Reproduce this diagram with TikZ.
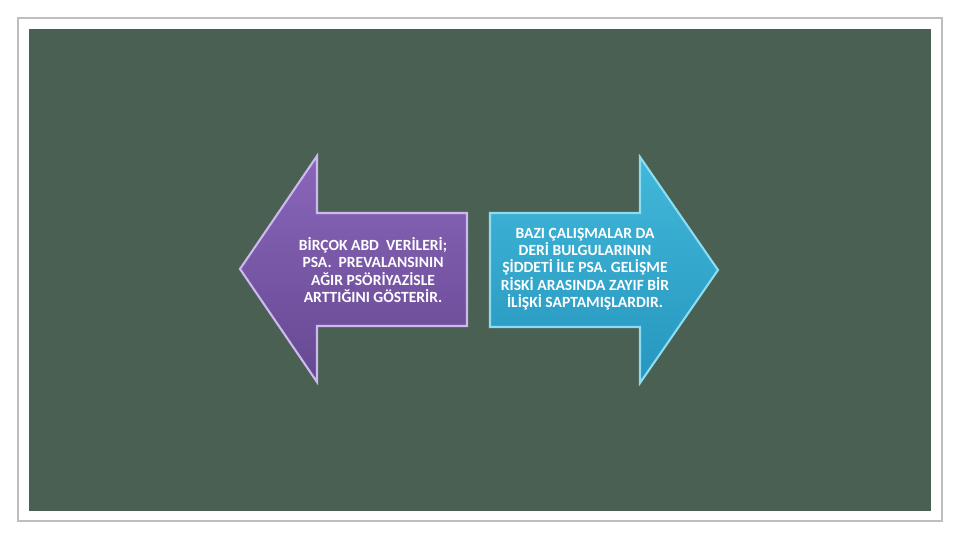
\documentclass[tikz,border=0pt]{standalone}
\usepackage{fontspec}
\setmainfont{Carlito}
\usepackage{tikz}
\usetikzlibrary{positioning, calc}
\definecolor{board}{RGB}{73,96,82}
\definecolor{frame}{RGB}{190,190,190}
\definecolor{purpletop}{RGB}{138,102,186}
\definecolor{purplebot}{RGB}{102,72,146}
\definecolor{purpleedge}{RGB}{205,185,240}
\definecolor{bluetop}{RGB}{66,184,218}
\definecolor{bluebot}{RGB}{38,150,190}
\definecolor{blueedge}{RGB}{140,220,242}

\begin{document}
\begin{tikzpicture}[x=0.02cm,y=-0.02cm]
		\tikzstyle{arrowleft} = [top color=purpletop, bottom color=purplebot, draw=purpleedge, line width=1.2pt, line join=miter]
		\tikzstyle{arrowright} = [top color=bluetop, bottom color=bluebot, draw=blueedge, line width=1.2pt, line join=miter]
		\tikzstyle{label} = [text=white, font=\bfseries\fontsize{8.85}{9.8}\selectfont, align=center, inner sep=0]
		\useasboundingbox [fill=white] (0,0) rectangle (960,540);
		\draw [frame, line width=0.6pt] (18,18) rectangle (942,521);
		\fill [board] (29,29) rectangle (931,511);
		\draw [arrowleft] (240,269) -- (317,156) -- (317,213) -- (467,213) -- (467,326) -- (317,326) -- (317,382) -- cycle;
		\draw [arrowright] (718,270) -- (640,157) -- (640,213) -- (490,213) -- (490,327) -- (640,327) -- (640,383) -- cycle;
		\node [label] (v1) at (373,270) {BİRÇOK ABD\ \ VERİLERİ;\\PSA.\ \ PREVALANSININ\\AĞIR PSÖRİYAZİSLE\\ARTTIĞINI GÖSTERİR.};
		\node [label] (v2) at (585,269) {BAZI ÇALIŞMALAR DA\\DERİ BULGULARININ\\ŞİDDETİ İLE PSA. GELİŞME\\RİSKİ ARASINDA ZAYIF BİR\\İLİŞKİ SAPTAMIŞLARDIR.};
\end{tikzpicture}
\end{document}
